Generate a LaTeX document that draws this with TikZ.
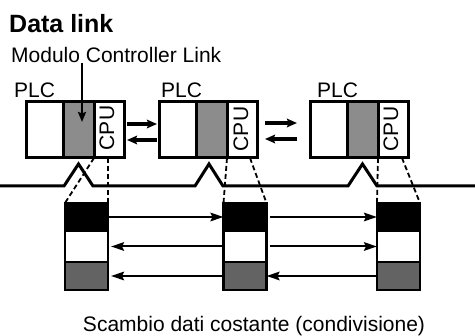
\documentclass[tikz,border=0pt]{standalone}
\usepackage{fontspec}
\setmainfont{Liberation Sans}
\usepackage{tikz}
\usetikzlibrary{positioning, arrows.meta, calc}
\definecolor{raster}{HTML}{8C8C8C}
\definecolor{rasterdunkel}{HTML}{636363}

\tikzset{
  feld/.style={draw, line width=3pt, inner sep=0pt, outer sep=0pt, minimum height=56pt},
  block/.style={draw, line width=2.8pt, inner sep=0pt, outer sep=0pt, minimum width=43pt},
  schrift/.style={inner sep=0pt, font=\fontsize{21}{24}\selectfont},
  titel/.style={inner sep=0pt, font=\fontsize{25}{28}\selectfont\bfseries},
  datenpfeil/.style={-{Stealth[length=13pt, width=8.5pt, inset=2pt]}, line width=2pt},
  plcpfeil/.style={-{Stealth[length=10pt, width=8.5pt, inset=1.5pt]}, line width=3.2pt},
  abbild/.style={line width=1.8pt, dash pattern=on 5pt off 3pt},
}

\begin{document}
\begin{tikzpicture}[x=1pt, y=-1pt]
  \useasboundingbox (0,0) rectangle (475,336);
  % Ueberschrift und Beschriftung
  \node[titel, anchor=base west] (titel) at (9,33) {Data link};
  \node[schrift, anchor=base west] (mcl) at (11,63) {Modulo Controller Link};
  % PLC 1
  \node[schrift, anchor=base west] (plc1) at (14,98) {PLC};
  \node[feld, minimum width=37pt, anchor=north west] (weiss1) at (26,102) {};
  \node[feld, fill=raster, minimum width=31pt, right=0pt of weiss1] (modul1) {};
  \node[feld, minimum width=30pt, right=0pt of modul1] (cpu1) {};
  \node[schrift, rotate=90] (cpuname1) at ([xshift=-2pt, yshift=2pt]cpu1.center) {CPU};
  % PLC 2
  \node[schrift, anchor=base west] (plc2) at (161,98) {PLC};
  \node[feld, minimum width=37pt, anchor=north west] (weiss2) at (159,102) {};
  \node[feld, fill=raster, minimum width=31pt, right=0pt of weiss2] (modul2) {};
  \node[feld, minimum width=30pt, right=0pt of modul2] (cpu2) {};
  \node[schrift, rotate=90] (cpuname2) at ([xshift=-1pt, yshift=1pt]cpu2.center) {CPU};
  % PLC 3
  \node[schrift, anchor=base west] (plc3) at (317,98) {PLC};
  \node[feld, minimum width=37pt, anchor=north west] (weiss3) at (310,102) {};
  \node[feld, fill=raster, minimum width=31pt, right=0pt of weiss3] (modul3) {};
  \node[feld, minimum width=30pt, right=0pt of modul3] (cpu3) {};
  \node[schrift, rotate=90] (cpuname3) at ([xshift=-2pt, yshift=1pt]cpu3.center) {CPU};
  % Zeiger auf das Modul
  \draw[-{Stealth[length=10pt, width=8pt, inset=1.5pt]}, line width=2.4pt]
    ($(modul1.center |- mcl.base)+(3.5,0)$) -- ($(modul1.center)+(3.5,-8)$);
  % Pfeile zwischen den PLC
  \draw[plcpfeil, shorten <=3pt, shorten >=2pt] ([yshift=6pt]cpu1.east) -- ([yshift=6pt]weiss2.west);
  \draw[plcpfeil, shorten <=2pt, shorten >=3pt] ([yshift=-10pt]weiss2.west) -- ([yshift=-10pt]cpu1.east);
  \draw[plcpfeil, shorten <=8pt, shorten >=13pt] ([yshift=7pt]cpu2.east) -- ([yshift=7pt]weiss3.west);
  \draw[plcpfeil, shorten <=13pt, shorten >=8pt] ([yshift=-9pt]weiss3.west) -- ([yshift=-9pt]cpu2.east);
  % Netzwerkleitung mit Abzweigen
  \draw[line width=3pt]
    (0,186) -- (64,186) -- (78.5,164) -- (93,186)
    -- (195,186) -- (209,164) -- (223,186)
    -- (348,186) -- (362.5,164) -- (377,186) -- (475,186);
  % Datenbereiche
  \node[block, fill=black, minimum height=28pt, anchor=north west] (b1o) at (65,203) {};
  \node[block, fill=white, minimum height=31pt, below=0pt of b1o] (b1m) {};
  \node[block, fill=rasterdunkel, minimum height=28pt, below=0pt of b1m] (b1u) {};
  \node[block, fill=black, minimum height=28pt, anchor=north west] (b2o) at (223.5,203) {};
  \node[block, fill=white, minimum height=31pt, below=0pt of b2o] (b2m) {};
  \node[block, fill=rasterdunkel, minimum height=28pt, below=0pt of b2m] (b2u) {};
  \node[block, fill=black, minimum height=28pt, anchor=north west] (b3o) at (377,203) {};
  \node[block, fill=white, minimum height=31pt, below=0pt of b3o] (b3m) {};
  \node[block, fill=rasterdunkel, minimum height=28pt, below=0pt of b3m] (b3u) {};
  % Abbildung CPU -> Datenbereich (gestrichelt)
  \draw[abbild] (cpu1.south west) -- (b1o.north west);
  \draw[abbild] (b1o.north east |- cpu1.south) -- (b1o.north east);
  \draw[abbild] (cpu2.south west) -- (b2o.north west);
  \draw[abbild] ([xshift=-7pt]cpu2.south east) -- (b2o.north east);
  \draw[abbild] (cpu3.south west) -- (b3o.north west);
  \draw[abbild] ([xshift=-6pt]cpu3.south east) -- (b3o.north east);
  % Datenaustausch
  \draw[datenpfeil] (b1o.east) -- (b2o.west);
  \draw[datenpfeil, shorten >=3pt] (b2m.west) -- (b1m.east);
  \draw[datenpfeil, shorten >=3pt] (b2u.west) -- (b1u.east);
  \draw[datenpfeil, shorten <=3pt] (b2o.east) -- (b3o.west);
  \draw[datenpfeil, shorten <=3pt] (b2m.east) -- (b3m.west);
  \draw[datenpfeil] (b3u.west) -- (b2u.east);
  \node[schrift, anchor=base] (fuss) at (254,332) {Scambio dati costante (condivisione)};
\end{tikzpicture}
\end{document}
